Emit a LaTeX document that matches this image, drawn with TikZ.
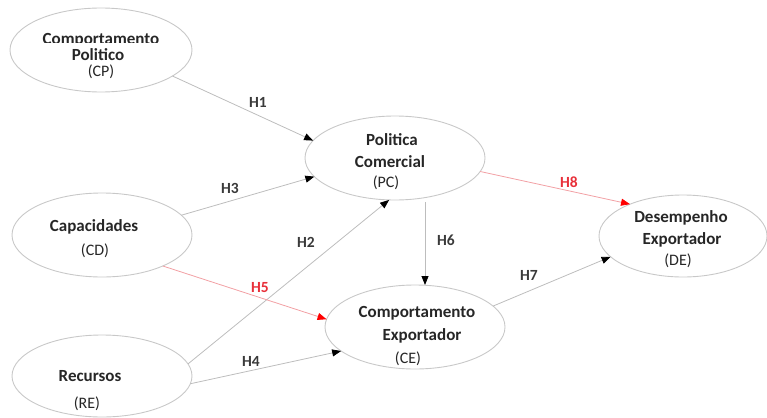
\documentclass[tikz,border=0pt]{standalone}
\usepackage{fontspec}
\setmainfont{Carlito}
\usetikzlibrary{arrows.meta,shapes.geometric}
\definecolor{rimgray}{HTML}{C8C8C8}
\definecolor{linkgray}{HTML}{BDBDBD}
\definecolor{inkdark}{HTML}{262626}
\definecolor{hgray}{HTML}{3A3A3A}
\definecolor{hred}{HTML}{E8303A}
\definecolor{linkred}{HTML}{F2A0A4}
\tikzset{
  blob/.style={ellipse, draw=rimgray, line width=0.9pt, inner sep=0pt, outer sep=0pt},
  cname/.style={anchor=base, inner sep=0pt, text=inkdark, font=\fontsize{17}{20}\selectfont\bfseries},
  ccode/.style={anchor=base, inner sep=0pt, text=inkdark, font=\fontsize{16}{19}\selectfont},
  hyp/.style={anchor=base, inner sep=0pt, text=hgray, font=\fontsize{15.5}{19}\selectfont\bfseries},
  hypred/.style={hyp, text=hred},
  link/.style={draw=linkgray, line width=0.8pt, -{Triangle[length=9pt,width=7pt,color=black]}},
  linkr/.style={draw=linkred, line width=0.8pt, -{Triangle[length=9pt,width=7pt,color=red]}}
}
\begin{document}
\begin{tikzpicture}[x=1pt,y=-1pt]
\useasboundingbox (0,0) rectangle (767,417);

% constructs
\node[blob, minimum width=182pt, minimum height=84pt] (cp) at (101,50) {};
\node[blob, minimum width=180pt, minimum height=84pt] (pc) at (395,158) {};
\node[blob, minimum width=168pt, minimum height=82pt] (de) at (683,236) {};
\node[blob, minimum width=180pt, minimum height=84pt] (cd) at (102,235) {};
\node[blob, minimum width=180pt, minimum height=84pt] (ce) at (415,327) {};
\node[blob, minimum width=180pt, minimum height=82pt] (re) at (102,376) {};

% construct labels
\begin{scope}
  \clip (0,0) rectangle (767,42.5);
  \node[cname] (cpa) at (101,45) {Comportamento};
\end{scope}
\node[cname] (cpb) at (98,61) {Politico};
\node[ccode] (cpc) at (101,77) {(CP)};

\node[cname] (pca) at (392,145) {Politica};
\node[cname] (pcb) at (390,167) {Comercial};
\node[ccode] (pcc) at (386,187) {(PC)};

\node[cname] (dea) at (681,222) {Desempenho};
\node[cname] (deb) at (682,244) {Exportador};
\node[ccode] (dec) at (678,265) {(DE)};

\node[cname] (cda) at (94,231) {Capacidades};
\node[ccode] (cdb) at (95,255) {(CD)};

\node[cname] (cea) at (417,317) {Comportamento};
\node[cname] (ceb) at (422,340) {Exportador};
\node[ccode] (cec) at (408,363) {(CE)};

\node[cname] (rea) at (90,381) {Recursos};
\node[ccode] (reb) at (87,408) {(RE)};

% hypotheses
\draw[link] (cp.-20.6) -- (pc.168.7);
\draw[link] (cd.14.7) -- (pc.193.7);
\draw[link] (re.8) -- (pc.-98);
\draw[linkr] (cd.-27.7) -- (ce.175.5);
\draw[link] (re.-5.5) -- (ce.198.4);
\draw[link] ([xshift=30pt,yshift=-2pt]pc.south) -- ([xshift=10pt]ce.north);
\draw[link] (ce.15.4) -- (de.196);
\draw[linkr] (pc.-9) -- (de.149.5);

\node[hyp] (h1) at (258,107) {H1};
\node[hyp] (h3) at (230,193) {H3};
\node[hyp] (h2) at (306,247) {H2};
\node[hypred] (h5) at (260,292) {H5};
\node[hyp] (h4) at (251,366) {H4};
\node[hyp] (h6) at (446,245) {H6};
\node[hyp] (h7) at (529,280) {H7};
\node[hypred] (h8) at (569,187) {H8};
\end{tikzpicture}
\end{document}
